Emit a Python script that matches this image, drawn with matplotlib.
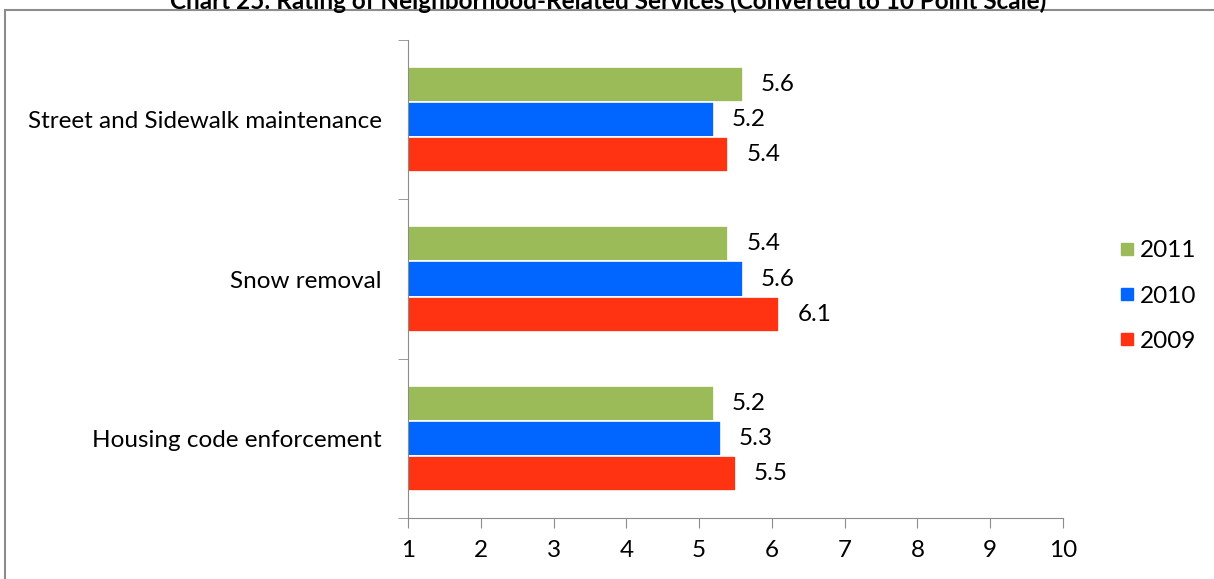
import matplotlib.pyplot as plt
import numpy as np
from matplotlib.patches import Rectangle
from matplotlib.lines import Line2D

plt.rcParams.update({"font.family": ["Lato", "DejaVu Sans"], "font.size": 17.5})

categories = ["Housing code enforcement", "Snow removal", "Street and Sidewalk maintenance"]
years = ["2011", "2010", "2009"]
vals_2011 = [5.2, 5.4, 5.6]
vals_2010 = [5.3, 5.6, 5.2]
vals_2009 = [5.5, 6.1, 5.4]
colors = ["#9BBB59", "#0066FF", "#FF3311"]

fig = plt.figure(figsize=(12.14, 5.79), dpi=100)
ax = fig.add_axes([408/1214, 1-518/579, (1063-408)/1214, (518-40)/579])

# frame round the chart
fig.patches.append(Rectangle((5/1214, -0.1), 1.2, 1.1-10/579, transform=fig.transFigure,
                             fill=False, edgecolor="#8c8c8c", lw=1.5))

y = np.arange(len(categories))
h = 0.22
for vals, off, col in zip([vals_2011, vals_2010, vals_2009], [h, 0, -h], colors):
    ax.barh(y + off, np.array(vals) - 1, left=1, height=h, color=col,
            edgecolor="white", linewidth=1.2)
    for yy, v in zip(y + off, vals):
        ax.text(v + 0.25, yy, f"{v:.1f}", va="center", ha="left")

ax.set_xlim(1, 10)
ax.set_ylim(-0.5, 2.5)
ax.set_xticks(range(1, 11))
ax.set_yticks(y)
ax.set_yticklabels(categories)
ax.set_yticks([-0.5, 0.5, 1.5, 2.5], minor=True)
ax.tick_params(axis="y", which="major", length=0, pad=19)
ax.tick_params(axis="y", which="minor", length=7, direction="out", color="#8c8c8c")
ax.tick_params(axis="x", length=7, color="#8c8c8c", pad=9)
for s in ["top", "right"]:
    ax.spines[s].set_visible(False)
for s in ["left", "bottom"]:
    ax.spines[s].set_color("#8c8c8c")

handles = [Line2D([], [], marker="s", ls="", color=c, markersize=8.5) for c in colors]
fig.legend(handles, years, loc="center left", bbox_to_anchor=(1120/1214, 1-296/579),
           frameon=False, labelspacing=1.0, handletextpad=0.2, handlelength=0.6,
           borderpad=0, borderaxespad=0)

fig.text(608/1214, 1-9/579, "Chart 25: Rating of Neighborhood-Related Services (Converted to 10 Point Scale)",
         ha="center", va="baseline", fontweight="bold")

fig.savefig("out.png", dpi=100)
